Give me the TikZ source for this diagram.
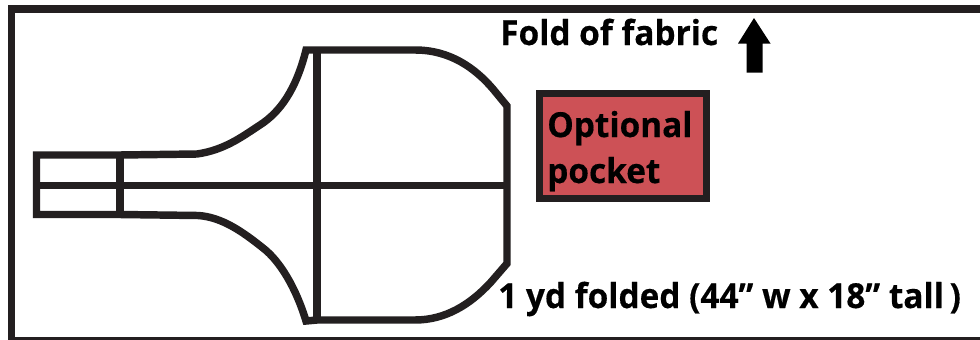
\documentclass[tikz,border=0pt]{standalone}
\usepackage{fontspec}
\setmainfont{Open Sans}[BoldFont={Open Sans Bold},BoldFeatures={FakeBold=0.4,FakeStretch=0.97}]
\definecolor{ink}{HTML}{231F20}
\definecolor{pocketred}{HTML}{CD5156}
\tikzset{
  line/.style={draw=ink,line width=5.6pt,line join=miter,miter limit=10},
  label/.style={anchor=base west,inner sep=0pt,font=\fontsize{25.8}{25.8}\selectfont\bfseries,text=black},
  pocketbox/.style={draw=ink,line width=5.4pt,fill=pocketred,minimum width=125pt,minimum height=78.6pt,inner sep=0pt,shape=rectangle}
}
\begin{document}
\begin{tikzpicture}[x=0.75pt,y=-0.75pt]
\useasboundingbox (0,0) rectangle (980,339);
\begin{scope}
\clip (0,0) rectangle (980,339);
\fill[white] (0,0) rectangle (980,339);
% sheet of fabric
\draw[line] (990,9) -- (11.5,9) -- (11.5,341) -- (990,341);
% named points of the pattern
\coordinate (tl) at (36.5,155);
\coordinate (bl) at (36.5,214.5);
\coordinate (ml) at (36.5,185.5);
\coordinate (nt) at (120,155);
\coordinate (nb) at (120,214.5);
\coordinate (ct) at (317,50);
\coordinate (cb) at (317,320);
\coordinate (mr) at (507,185.5);
% outline
\draw[line] (nt) -- (tl) -- (bl) -- (nb)
  -- (198,215.5) .. controls (222,217) and (243,232) .. (263,248)
  .. controls (280,261) and (296,288) .. (306,321) -- (cb)
  -- (415,320) .. controls (445,320) and (470,305) .. (491,282)
  -- (507,263.5) -- (mr) -- (507,106)
  -- (493,89) .. controls (475,68) and (450,50) .. (415,50) -- (ct)
  -- (306,50) .. controls (296,90) and (280,112) .. (260,125)
  .. controls (243,136) and (225,150) .. (197,154) -- (nt);
\draw[line] (nt) -- (nb);
\draw[line] (ct) -- (cb);
\draw[line] (ml) -- (mr);
% pocket
\node[pocketbox] (pocket) at (622.9,146) {};
\node[label] (opt) at (547,137) {Optional};
\node[label] (poc) at (547,183) {pocket};
% arrow
\fill[black] (754,18) -- (770.5,43.5) -- (762.5,43.5) -- (762.5,72.5) -- (746.5,72.5) -- (746.5,43.5) -- (738,43.5) -- cycle;
\node[label] (fold) at (500,45) {Fold of fabric};
\node[label] (yard) at (498,308) {1 yd folded (44” w x 18” tall\,)};
\end{scope}
\end{tikzpicture}
\end{document}
